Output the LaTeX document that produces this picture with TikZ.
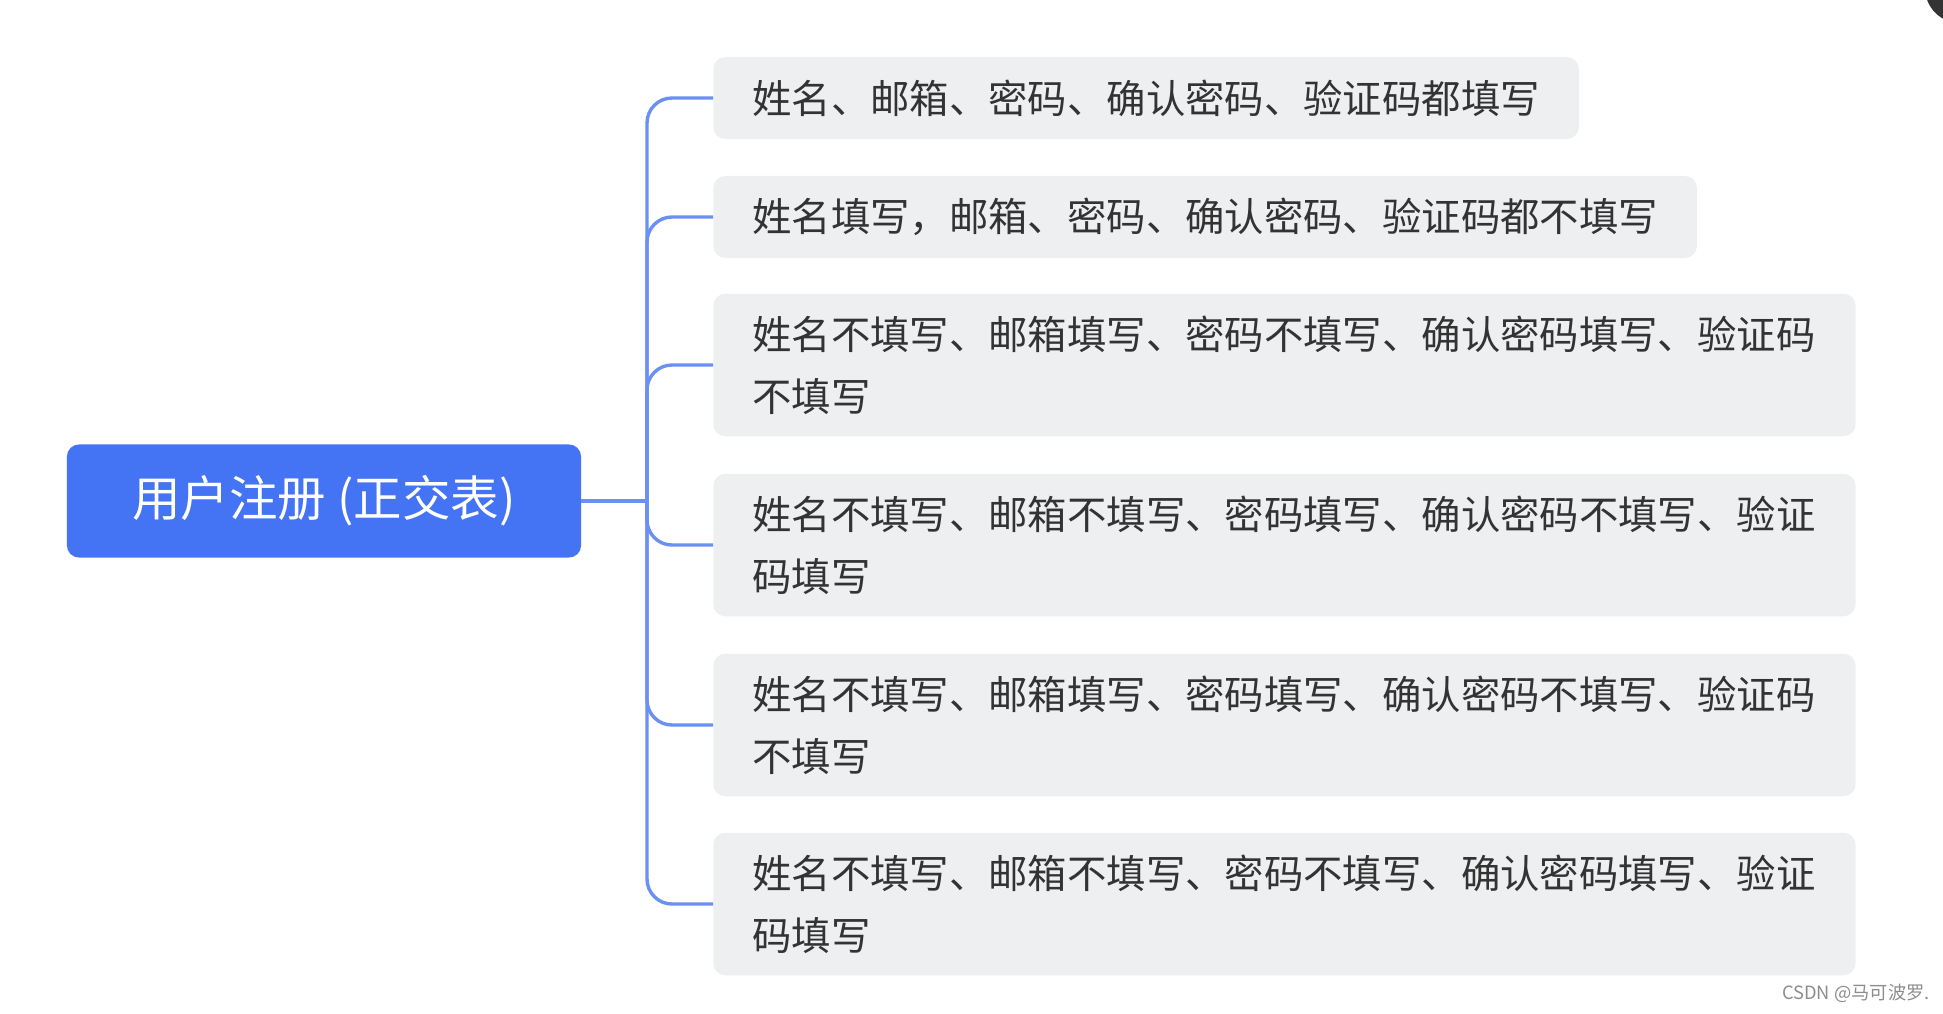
\documentclass[tikz,border=0pt]{standalone}
\usepackage{fontspec}
\setmainfont{Noto Sans CJK SC}

\definecolor{rootblue}{HTML}{4473F4}
\definecolor{linkblue}{HTML}{6A8FF5}
\definecolor{boxgray}{HTML}{EEEFF1}
\definecolor{textgray}{HTML}{333333}

\tikzset{
    leaf/.style={fill=boxgray, rounded corners=0.3cm, anchor=west,
        inner xsep=0.975cm, inner ysep=0.55cm, minimum height=2.05cm,
        text=textgray, font=\fontsize{28}{44}\selectfont, align=left},
    twoline/.style={leaf, text width=26.6cm},
    branch/.style={draw=linkblue, line width=2.4pt, rounded corners=0.625cm},
}

\begin{document}
\begin{tikzpicture}[x=0.025cm, y=-0.025cm]
        \useasboundingbox (0,0) rectangle (1943,1013);
        \coordinate (H) at (647,501);

    % Nodes
    \node[fill=rootblue, rounded corners=0.3cm, minimum width=12.85cm, minimum height=2.825cm,
        text=white, font=\fontsize{34.5}{40}\selectfont] (R) at (324,501) {用户注册 (正交表)};
    \node[leaf] (A) at (713,98) {姓名、邮箱、密码、确认密码、验证码都填写};
    \node[leaf] (B) at (713,217) {姓名填写，邮箱、密码、确认密码、验证码都不填写};
    \node[twoline] (C) at (713,365) {姓名不填写、邮箱填写、密码不填写、确认密码填写、验证码\\不填写};
    \node[twoline] (D) at (713,545) {姓名不填写、邮箱不填写、密码填写、确认密码不填写、验证\\码填写};
    \node[twoline] (E) at (713,725) {姓名不填写、邮箱填写、密码填写、确认密码不填写、验证码\\不填写};
    \node[twoline] (F) at (713,904) {姓名不填写、邮箱不填写、密码不填写、确认密码填写、验证\\码填写};

    % Branches
    \draw[linkblue, line width=2.4pt] (R.east) -- (H);
    \foreach \n in {A,B,C,D,E,F}
        \draw[branch] (H) |- (\n.west);

    \node[text=black!45, inner sep=0pt, font=\fontsize{13}{15}\selectfont, anchor=east] (W) at (1930,993) {CSDN @马可波罗.};
    \fill[black!80] (1960,-12) circle (0.875cm);
    \end{tikzpicture}
\end{document}
